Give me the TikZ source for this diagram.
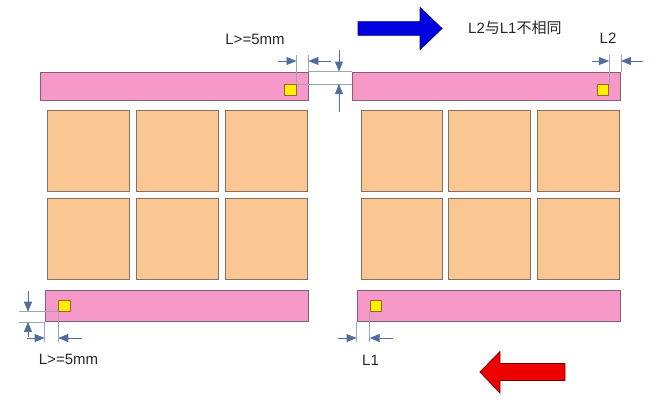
\documentclass[tikz,border=0pt]{standalone}
\usepackage{fontspec}
\setmainfont{Liberation Sans}
\newfontfamily\cjk{Noto Sans CJK SC}
\usetikzlibrary{arrows.meta}
\definecolor{barpink}{HTML}{F699C8}
\definecolor{barline}{HTML}{7E6272}
\definecolor{chipfill}{HTML}{FAC792}
\definecolor{chipline}{HTML}{7F7264}
\definecolor{padfill}{HTML}{FFF000}
\definecolor{padline}{HTML}{A0602A}
\definecolor{dimblue}{HTML}{4F6E9E}
\definecolor{extgrey}{HTML}{9AA6B8}
\definecolor{bigblue}{HTML}{0000E0}
\definecolor{bigred}{HTML}{EE0000}
\tikzset{
  bar/.style={draw=barline, fill=barpink, line width=0.8pt, inner sep=0pt},
  chip/.style={draw=chipline, fill=chipfill, line width=0.8pt, inner sep=0pt, anchor=north west,
    minimum width=81.5pt, minimum height=80.5pt},
  pad/.style={draw=padline, fill=padfill, line width=0.7pt, inner sep=0pt,
    minimum width=11.5pt, minimum height=11pt},
  dim/.style={draw=dimblue, line width=0.8pt, -{Triangle[length=10pt,width=8pt,fill=dimblue]}},
  ext/.style={draw=extgrey, line width=0.6pt},
  lbl/.style={font=\fontsize{15}{18}\selectfont, text=black!85, inner sep=0pt}
}

\begin{document}
\begin{tikzpicture}[x=1pt, y=-1pt]
			%%%%% START %%%%%
			\useasboundingbox (0,0) rectangle (667,405);
			
			% pink bars
			\node[bar, minimum width=268pt, minimum height=28pt] (barTL) at (174,86) {};
			\node[bar, minimum width=268.5pt, minimum height=28pt] (barTR) at (486.25,86) {};
			\node[bar, minimum width=263pt, minimum height=31.5pt] (barBL) at (176.5,305.75) {};
			\node[bar, minimum width=263.5pt, minimum height=31.5pt] (barBR) at (488.75,305.75) {};
			
			% yellow pads
			\node[pad, anchor=north east] (padTL) at (296.5,84) {};
			\node[pad, anchor=north east] (padTR) at (609,84) {};
			\node[pad, anchor=south west] (padBL) at (58.3,311.7) {};
			\node[pad, anchor=south west] (padBR) at (369.7,311.7) {};
			
			% chips
			\foreach \cx [count=\i] in {47.3,136.3,225}
			  \foreach \cy [count=\j] in {110,198.3}
			    \node[chip] (chipL\i\j) at (\cx,\cy) {};
			\foreach \cx [count=\i] in {360.7,448.3,537.3}
			  \foreach \cy [count=\j] in {110,198.3}
			    \node[chip] (chipR\i\j) at (\cx,\cy) {};
			
			% top left L>=5mm
			\draw[ext] (padTL.north east) -- (padTL.north east |- 0,55);
			\draw[ext] (barTL.north east) -- (barTL.north east |- 0,55);
			\draw[dim] (278,61) -- (padTL.north east |- 0,61);
			\draw[dim] (331,61) -- (barTL.north east |- 0,61);
			\node[lbl] (lblTop) at (255,39) {L>=5mm};
			
			% gap between the top bars
			\draw[ext] (barTL.north east) -- (barTR.north west);
			\draw[ext] (padTL.north east) -- (barTR.west |- padTL.north);
			\draw[dim] (339,50) -- (339,0 |- barTL.north);
			\draw[dim] (339,112) -- (339,0 |- padTL.north);
			
			% top right L2
			\draw[ext] (padTR.north east) -- (padTR.north east |- 0,55);
			\draw[ext] (barTR.north east) -- (barTR.north east |- 0,55);
			\draw[dim] (592,61) -- (padTR.north east |- 0,61);
			\draw[dim] (643,61) -- (barTR.north east |- 0,61);
			\node[lbl] (lblL2) at (608,38) {L2};
			
			% bottom left L>=5mm
			\draw[ext] (padBL.south west) -- (19,0 |- padBL.south);
			\draw[ext] (barBL.south west) -- (19,0 |- barBL.south);
			\draw[dim] (28,291) -- (28,0 |- padBL.south);
			\draw[dim] (28,337) -- (28,0 |- barBL.south);
			\draw[ext] (barBL.south west) -- (barBL.south west |- 0,342);
			\draw[ext] (padBL.south west) -- (padBL.south west |- 0,342);
			\draw[dim] (27,338) -- (barBL.south west |- 0,338);
			\draw[dim] (82,338) -- (padBL.south west |- 0,338);
			\node[lbl] (lblBot) at (68.5,359.5) {L>=5mm};
			
			% bottom right L1
			\draw[ext] (barBR.south west) -- (barBR.south west |- 0,342);
			\draw[ext] (padBR.south west) -- (padBR.south west |- 0,342);
			\draw[dim] (338,338) -- (barBR.south west |- 0,338);
			\draw[dim] (393,338) -- (padBR.south west |- 0,338);
			\node[lbl] (lblL1) at (370.5,360) {L1};
			
			% direction arrows
			\draw[fill=bigblue, draw=blue!50!black, line width=0.8pt] (358,21.7) -- (420,21.7) -- (420,7.5)
			  -- (442,28.5) -- (420,49.5) -- (420,35.3) -- (358,35.3) -- cycle;
			\node[lbl, anchor=west] (note) at (468,28) {L2{\cjk 与}L1{\cjk 不相同}};
			\draw[fill=bigred, draw=red!50!black, line width=0.8pt] (565,363.5) -- (500,363.5) -- (500,351.5)
			  -- (480,372) -- (500,393) -- (500,380.5) -- (565,380.5) -- cycle;
			
			%%%%% END %%%%%
\end{tikzpicture}
\end{document}
